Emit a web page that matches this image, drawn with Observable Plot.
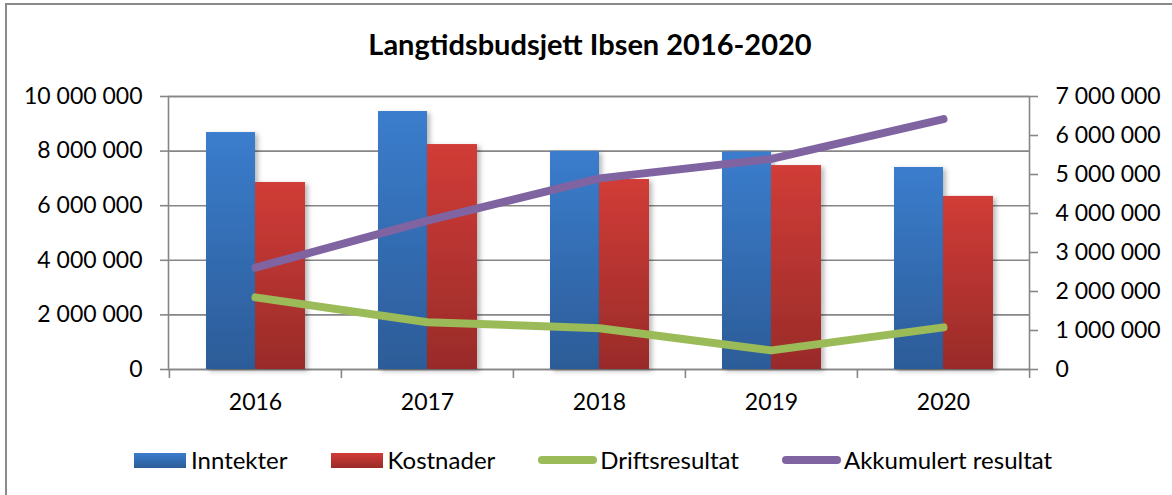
<!DOCTYPE html>
<html>
<head>
<meta charset="utf-8">
<script src="https://cdn.jsdelivr.net/npm/d3@7"></script>
<script src="https://cdn.jsdelivr.net/npm/@observablehq/plot@0.6"></script>
<style>
  html, body { margin: 0; padding: 0; background: #fff; }
  #wrap { position: relative; width: 1172px; height: 495px; overflow: hidden; font-family: Lato, "Open Sans", sans-serif; }
  #frame { position: absolute; left: 5px; top: 3px; width: 1200px; height: 520px; border-top: 2px solid #8a8a8a; border-left: 2px solid #8a8a8a; box-sizing: border-box; }
  #title { position: absolute; left: 4px; top: 28px; width: 1172px; text-align: center; font-weight: 700; font-size: 29px; line-height: 32px; color: #000; }
  #chart { position: absolute; left: 0; top: 0; }
  #legend { position: absolute; left: 134px; top: 446px; display: flex; align-items: center; font-size: 24px; line-height: 28px; color: #000; }
  .item { display: flex; align-items: center; margin-right: 43px; }
  .sw { width: 52px; height: 15px; margin-right: 5px; }
  .ln { width: 59px; height: 8px; border-radius: 4px; margin-right: 3px; }
</style>
</head>
<body>
<div id="wrap">
  <div id="frame"></div>
  <div id="chart"></div>
  <div id="title">Langtidsbudsjett Ibsen 2016-2020</div>
  <div id="legend"></div>
</div>
<script>
// ---- data ----
const years = ["2016", "2017", "2018", "2019", "2020"];
const inntekter = [8680000, 9450000, 7990000, 7970000, 7400000];
const kostnader = [6850000, 8240000, 6960000, 7470000, 6340000];
const driftsresultat = [1850000, 1210000, 1060000, 490000, 1080000];
const akkumulert = [2610000, 3820000, 4900000, 5400000, 6420000];
const leftTicks = [0, 2000000, 4000000, 6000000, 8000000, 10000000];
const rightTicks = [0, 1000000, 2000000, 3000000, 4000000, 5000000, 6000000, 7000000];
const seriesNames = ["Inntekter", "Kostnader", "Driftsresultat", "Akkumulert resultat"];

// ---- layout / style ----
const W = 1172, H = 495;
const mL = 168, mR = 143, mT = 96, mB = 126;
const leftMax = 10000000, rightMax = 7000000;
const k = leftMax / rightMax; // right-axis values mapped onto left scale
const bw = (W - mL - mR) / years.length;
const grey = "#868686";
const fmt = v => d3.format(",")(Math.round(v)).replace(/,/g, " ");

const barData = years.flatMap((y, i) => [
  {year: y, series: seriesNames[0], value: inntekter[i]},
  {year: y, series: seriesNames[1], value: kostnader[i]}
]);
const lineData1 = years.map((y, i) => ({year: y, value: driftsresultat[i]}));
const lineData2 = years.map((y, i) => ({year: y, value: akkumulert[i]}));

const plot = Plot.plot({
  width: W, height: H,
  marginLeft: mL, marginRight: mR, marginTop: mT, marginBottom: mB,
  style: {fontFamily: "Lato, 'Open Sans', sans-serif", fontSize: "23px", background: "transparent", color: "#000"},
  x: {type: "band", domain: years, padding: 0, axis: null},
  y: {domain: [0, leftMax], axis: null},
  marks: [
    Plot.gridY({ticks: leftTicks, stroke: grey, strokeOpacity: 1, strokeWidth: 1.6}),
    Plot.frame({stroke: grey, strokeWidth: 1.6}),
    Plot.barY(barData.filter(d => d.series === seriesNames[0]), {x: "year", y: "value", fill: "url(#gBlue)", insetLeft: 37, insetRight: 86}),
    Plot.barY(barData.filter(d => d.series === seriesNames[1]), {x: "year", y: "value", fill: "url(#gRed)", insetLeft: 86, insetRight: 36}),
    Plot.axisY({ticks: leftTicks, anchor: "left", label: null, tickSize: 8, tickPadding: 18, tickFormat: fmt, stroke: grey, strokeWidth: 1.6, fill: "#000", fontSize: 23}),
    Plot.axisY({ticks: rightTicks.map(t => t * k), anchor: "right", label: null, tickSize: 8, tickPadding: 18, tickFormat: d => fmt(d / k), stroke: grey, strokeWidth: 1.6, fill: "#000", fontSize: 23}),
    Plot.axisX({label: null, tickSize: 0, tickPadding: 24, fill: "#000", fontSize: 23}),
    Plot.ruleX(years, {x: d => d, dx: -bw / 2, y1: 0, y2: 0, insetBottom: -9, stroke: grey, strokeWidth: 1.6}),
    Plot.ruleX(years.slice(-1), {x: d => d, dx: bw / 2, y1: 0, y2: 0, insetBottom: -9, stroke: grey, strokeWidth: 1.6}),
    Plot.lineY(lineData1, {x: "year", y: d => d.value * k, stroke: "#9BBB59", strokeWidth: 8, strokeLinecap: "round", strokeLinejoin: "round"}),
    Plot.lineY(lineData2, {x: "year", y: d => d.value * k, stroke: "#8064A2", strokeWidth: 8, strokeLinecap: "round", strokeLinejoin: "round"})
  ]
});

// gradients + shadow
const svg = d3.select(plot);
const defs = svg.insert("defs", ":first-child");
function grad(id, top, bottom) {
  const g = defs.append("linearGradient").attr("id", id).attr("x1", 0).attr("y1", 0).attr("x2", 0).attr("y2", 1);
  g.append("stop").attr("offset", "0%").attr("stop-color", top);
  g.append("stop").attr("offset", "100%").attr("stop-color", bottom);
}
grad("gBlue", "#3B7DCD", "#2C5C98");
grad("gRed", "#D13C37", "#992B29");
const f = defs.append("filter").attr("id", "shadow").attr("x", "-20%").attr("y", "-5%").attr("width", "150%").attr("height", "115%");
f.append("feDropShadow").attr("dx", 3).attr("dy", 2).attr("stdDeviation", 2.5).attr("flood-color", "#000").attr("flood-opacity", 0.28);
svg.selectAll("g").filter(function() { const fl = this.getAttribute("fill"); return fl && fl.startsWith("url(#g"); }).attr("filter", "url(#shadow)");

document.getElementById("chart").appendChild(plot);

// legend
const legendStyles = [
  {type: "sw", bg: "linear-gradient(#3B7DCD, #2C5C98)"},
  {type: "sw", bg: "linear-gradient(#D13C37, #992B29)"},
  {type: "ln", bg: "#9BBB59"},
  {type: "ln", bg: "#8064A2"}
];
const legend = d3.select("#legend");
seriesNames.forEach((name, i) => {
  const it = legend.append("div").attr("class", "item");
  it.append("div").attr("class", legendStyles[i].type).style("background", legendStyles[i].bg);
  it.append("span").text(name);
});
</script>
</body>
</html>
